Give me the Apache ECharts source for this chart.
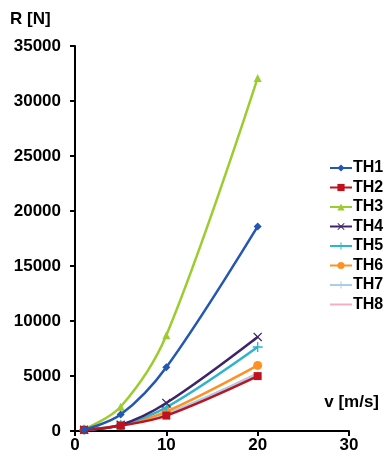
<!DOCTYPE html>
<html><head><meta charset="utf-8">
<script src="https://cdn.jsdelivr.net/npm/echarts@6/dist/echarts.min.js"></script>
<style>html,body{margin:0;padding:0;background:#fff}#c{width:385px;height:459px}</style>
</head><body><div id="c"></div>
<script>
var speeds = [1, 5, 10, 20];
var seriesNames = ['TH1','TH2','TH3','TH4','TH5','TH6','TH7','TH8'];
var TH1 = [120, 1490, 5800, 18600];
var TH2 = [100, 480, 1400, 4990];
var TH3 = [150, 2200, 8700, 32100];
var TH4 = [110, 560, 2550, 8550];
var TH5 = [110, 540, 2150, 7640];
var TH6 = [120, 520, 1760, 5960];
var TH7 = [100, 500, 1580, 5150];
var TH8 = [100, 490, 1520, 5250];
var xTicks = [0, 10, 20, 30];
var yTicks = [0, 5000, 10000, 15000, 20000, 25000, 30000, 35000];

var values = [TH1, TH2, TH3, TH4, TH5, TH6, TH7, TH8];
var colors = ['#2456B4','#C0121E','#9CCC2E','#3E2466','#30B4C8','#FF9124','#A8CFEA','#F2AFC0'];
var xPath = 'path://M0,1 L1,0 L5,4 L9,0 L10,1 L6,5 L10,9 L9,10 L5,6 L1,10 L0,9 L4,5 Z';
var plusPath = 'path://M4.3,0 H5.7 V4.3 H10 V5.7 H5.7 V10 H4.3 V5.7 H0 V4.3 H4.3 Z';
var symbols = ['diamond','rect','triangle',xPath,plusPath,'circle',plusPath,'circle'];
var sizes = [8,8,8,9,10,9,6,0];

var font = 'Liberation Sans, Arial, sans-serif';
var series = seriesNames.map(function(n, i){
  return {
    name: n, type: 'line', smooth: 0.35,
    data: speeds.map(function(s, j){ return [s, values[i][j]]; }),
    symbol: symbols[i], symbolSize: sizes[i],
    lineStyle: {color: colors[i], width: 2.5},
    itemStyle: {color: colors[i]},
    z: 10 - i
  };
});
var legendData = seriesNames.map(function(n, i){
  return i === 7 ? {name: n, itemStyle: {color: 'rgba(0,0,0,0)', borderWidth: 0}} : {name: n};
});
var chart = echarts.init(document.getElementById('c'));
chart.setOption({
  animation: false,
  backgroundColor: '#fff',
  grid: {left: 75, right: 36, top: 46, bottom: 28},
  legend: {
    orient: 'vertical', left: 324, top: 155,
    itemWidth: 22, itemHeight: 9, itemGap: 3.5,
    data: legendData,
    textStyle: {fontFamily: font, fontWeight: 'bold', fontSize: 16, color: '#000', padding: [0,0,0,-4]}
  },
  xAxis: {
    type: 'value', min: 0, max: 30, interval: 10,
    name: 'v [m/s]', nameLocation: 'end', nameGap: 0,
    nameTextStyle: {fontFamily: font, fontWeight: 'bold', fontSize: 17, color: '#000', align: 'right', verticalAlign: 'bottom', padding: [0, -30, 20, 0]},
    axisLine: {lineStyle: {color: '#000', width: 2}},
    axisTick: {show: true, length: 5, lineStyle: {color: '#000', width: 2}},
    axisLabel: {fontFamily: font, fontWeight: 'bold', fontSize: 17, color: '#000', margin: 6},
    splitLine: {show: false}
  },
  yAxis: {
    type: 'value', min: 0, max: 35000, interval: 5000,
    name: 'R [N]', nameLocation: 'end', nameGap: 18,
    nameTextStyle: {fontFamily: font, fontWeight: 'bold', fontSize: 17, color: '#000', align: 'left', padding: [0, 0, 0, -65]},
    axisLine: {show: true, lineStyle: {color: '#000', width: 2}},
    axisTick: {show: true, length: 5, lineStyle: {color: '#000', width: 2}},
    axisLabel: {fontFamily: font, fontWeight: 'bold', fontSize: 17, color: '#000', margin: 14,
      formatter: function(v){ return String(v); }},
    splitLine: {show: false}
  },
  series: series
});
</script></body></html>
